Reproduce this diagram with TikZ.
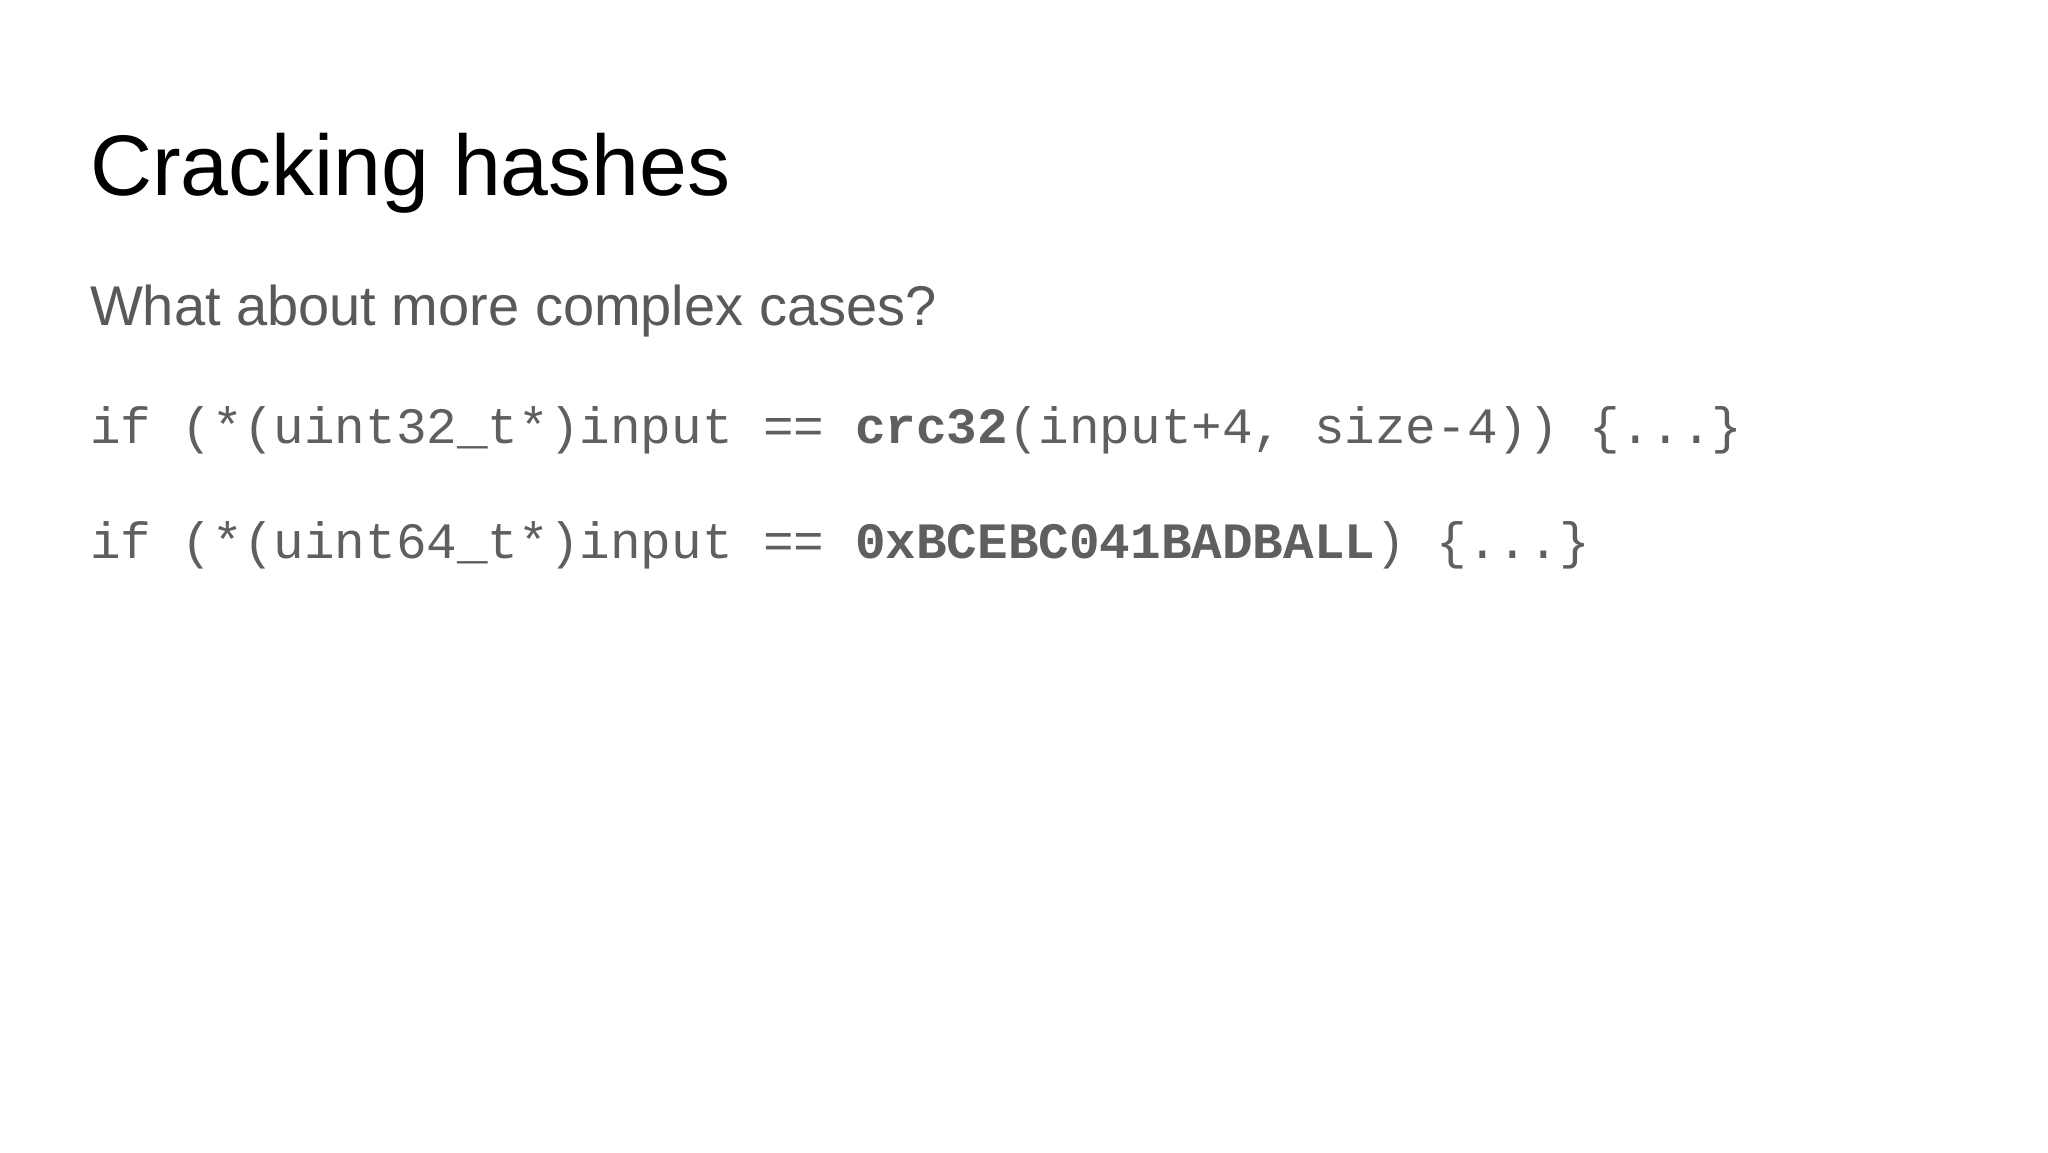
\documentclass[tikz,border=0pt]{standalone}
\usepackage{fontspec}
\setmainfont{Liberation Sans}
\newfontfamily\codefont{Liberation Mono}
\definecolor{subgray}{HTML}{595959}
\definecolor{codegray}{HTML}{5F5F5F}
\begin{document}
\begin{tikzpicture}[x=1pt,y=1pt,
  txt/.style={anchor=base west,inner sep=0pt,outer sep=0pt},
  titlestyle/.style={txt,font=\fontsize{86}{90}\selectfont,text=black},
  substyle/.style={txt,font=\fontsize{56}{60}\selectfont,text=subgray},
  codestyle/.style={txt,font=\codefont\fontsize{51}{55}\selectfont,text=codegray}]
\useasboundingbox[fill=white] (0,0) rectangle (2048,1152);
\node[titlestyle] (title) at (90,956) {Cracking hashes};
\node[substyle] (sub) at (90,826) {What about more complex cases?};
\node[codestyle] (l1) at (90,708) {if (*(uint32\_t*)input == \textbf{crc32}(input+4, size-4)) \{...\}};
\node[codestyle] (l2) at (90,593) {if (*(uint64\_t*)input == \textbf{0xBCEBC041BADBALL}) \{...\}};
\end{tikzpicture}
\end{document}
